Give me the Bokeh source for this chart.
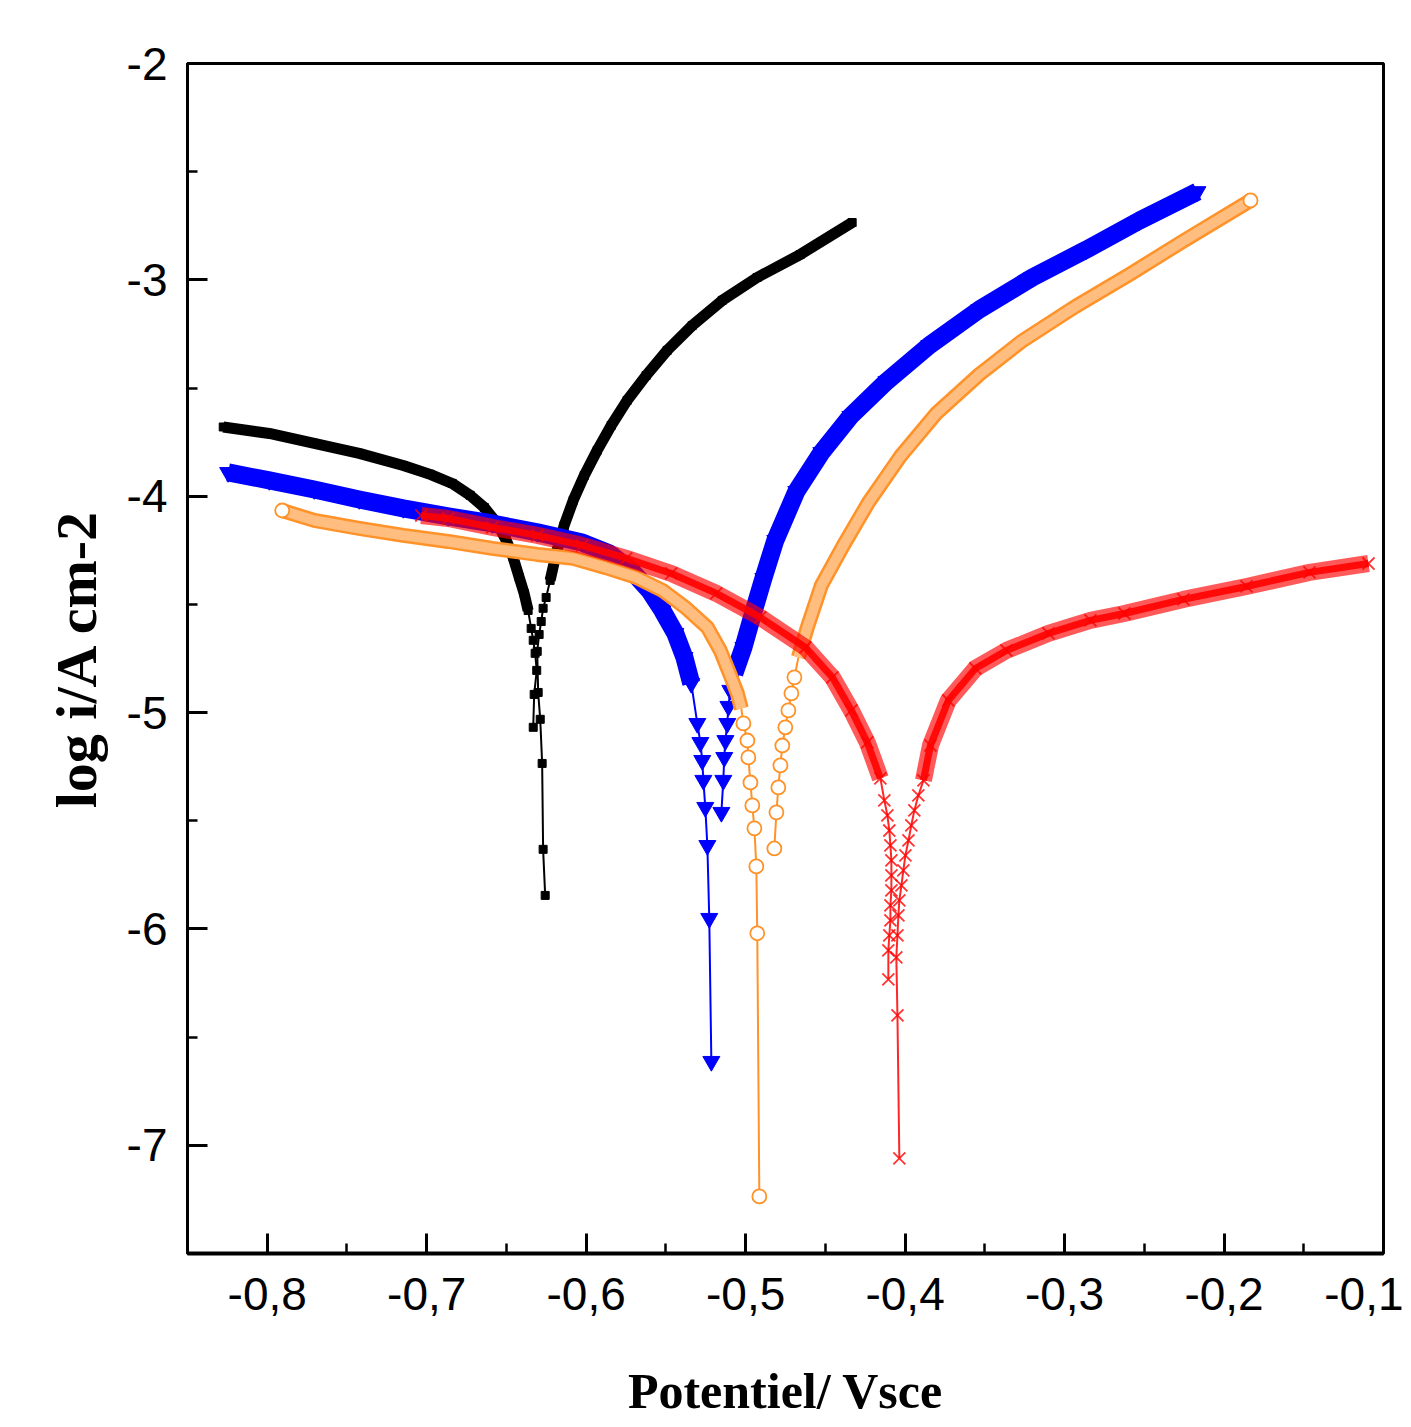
from bokeh.plotting import figure
from bokeh.models import FixedTicker, Range1d
from bokeh.embed import file_html
from bokeh.resources import INLINE

# ---------------- axis ticks ----------------
x_ticks = [-0.8, -0.7, -0.6, -0.5, -0.4, -0.3, -0.2, -0.1]
x_tick_labels = ["-0,8", "-0,7", "-0,6", "-0,5", "-0,4", "-0,3", "-0,2", "-0,1"]
x_minor = [-0.75, -0.65, -0.55, -0.45, -0.35, -0.25, -0.15]
y_ticks = [-2, -3, -4, -5, -6, -7]
y_tick_labels = ["-2", "-3", "-4", "-5", "-6", "-7"]
y_minor = [-2.5, -3.5, -4.5, -5.5, -6.5]

# ---------------- data (E in V/SCE, log i) ----------------
# black (squares)
black_cath_E = [-0.8276, -0.7987, -0.7705, -0.7423, -0.7147, -0.6978, -0.6840, -0.6727, -0.6639, -0.6558, -0.6501, -0.6458, -0.6420, -0.6389, -0.6364]
black_cath_logi = [-3.680, -3.710, -3.756, -3.802, -3.858, -3.899, -3.941, -3.996, -4.052, -4.126, -4.204, -4.283, -4.375, -4.449, -4.528]
black_cath_tail_E = [-0.6345, -0.6332, -0.6320, -0.6310, -0.6326, -0.6332]
black_cath_tail_logi = [-4.611, -4.666, -4.726, -4.805, -4.916, -5.068]
black_anod_tail_E = [-0.6257, -0.6270, -0.6276, -0.6288, -0.6301, -0.6307, -0.6295, -0.6282, -0.6270, -0.6251]
black_anod_tail_logi = [-5.845, -5.632, -5.235, -5.031, -4.907, -4.717, -4.639, -4.579, -4.518, -4.468]
black_anod_E = [-0.6226, -0.6188, -0.6138, -0.6081, -0.6012, -0.5931, -0.5843, -0.5743, -0.5624, -0.5492, -0.5335, -0.5147, -0.4928, -0.4658, -0.4332]
black_anod_logi = [-4.389, -4.264, -4.135, -4.019, -3.904, -3.788, -3.673, -3.557, -3.442, -3.326, -3.211, -3.095, -2.989, -2.883, -2.735]

# blue (inverted triangles)
blue_cath_E = [-0.8245, -0.7987, -0.7705, -0.7423, -0.7147, -0.6865, -0.6589, -0.6306, -0.6024, -0.5855, -0.5717, -0.5604, -0.5522, -0.5441, -0.5384, -0.5341]
blue_cath_logi = [-3.890, -3.927, -3.969, -4.015, -4.056, -4.093, -4.126, -4.167, -4.214, -4.264, -4.343, -4.435, -4.528, -4.634, -4.745, -4.865]
blue_cath_tail_E = [-0.5303, -0.5284, -0.5272, -0.5265, -0.5253, -0.5240, -0.5228, -0.5215]
blue_cath_tail_logi = [-5.050, -5.138, -5.221, -5.313, -5.438, -5.614, -5.951, -6.612]
blue_anod_tail_E = [-0.5152, -0.5140, -0.5134, -0.5127, -0.5115, -0.5108, -0.5096]
blue_anod_tail_logi = [-5.461, -5.313, -5.207, -5.129, -5.050, -4.971, -4.897]
blue_anod_E = [-0.5071, -0.5014, -0.4952, -0.4889, -0.4814, -0.4682, -0.4525, -0.4343, -0.4117, -0.3848, -0.3534, -0.3202, -0.2863, -0.2531, -0.2167]
blue_anod_logi = [-4.819, -4.699, -4.537, -4.380, -4.204, -3.978, -3.798, -3.631, -3.470, -3.303, -3.137, -2.989, -2.860, -2.726, -2.592]

# orange (open circles)
orange_cath_E = [-0.7906, -0.7705, -0.7423, -0.7147, -0.6865, -0.6589, -0.6306, -0.6081, -0.5880, -0.5686, -0.5522, -0.5378, -0.5240, -0.5159, -0.5096, -0.5052, -0.5027]
orange_cath_logi = [-4.066, -4.112, -4.149, -4.181, -4.209, -4.241, -4.269, -4.287, -4.329, -4.375, -4.435, -4.514, -4.606, -4.713, -4.828, -4.911, -4.981]
orange_cath_tail_E = [-0.5014, -0.4989, -0.4983, -0.4970, -0.4958, -0.4945, -0.4933, -0.4927, -0.4914]
orange_cath_tail_logi = [-5.050, -5.129, -5.207, -5.323, -5.429, -5.535, -5.711, -6.020, -7.236]
orange_anod_tail_E = [-0.4820, -0.4807, -0.4795, -0.4782, -0.4770, -0.4751, -0.4732, -0.4713, -0.4694]
orange_anod_tail_logi = [-5.628, -5.461, -5.346, -5.244, -5.152, -5.068, -4.990, -4.911, -4.837]
orange_anod_E = [-0.4669, -0.4613, -0.4525, -0.4387, -0.4230, -0.4030, -0.3804, -0.3534, -0.3271, -0.2932, -0.2593, -0.2261, -0.1834]
orange_anod_logi = [-4.745, -4.606, -4.412, -4.227, -4.029, -3.816, -3.617, -3.437, -3.285, -3.123, -2.975, -2.823, -2.633]

# red (crosses)
red_cath_E = [-0.7034, -0.6865, -0.6589, -0.6306, -0.6024, -0.5748, -0.5466, -0.5184, -0.4908, -0.4625, -0.4456, -0.4337, -0.4237, -0.4155]
red_cath_logi = [-4.089, -4.103, -4.144, -4.181, -4.227, -4.287, -4.357, -4.449, -4.560, -4.699, -4.837, -4.990, -5.138, -5.304]
red_cath_tail_E = [-0.4130, -0.4111, -0.4099, -0.4092, -0.4086, -0.4086, -0.4086, -0.4092, -0.4092, -0.4099, -0.4105, -0.4105]
red_cath_tail_logi = [-5.406, -5.475, -5.545, -5.614, -5.683, -5.752, -5.822, -5.891, -5.960, -6.030, -6.099, -6.233]
red_anod_tail_E = [-0.4036, -0.4048, -0.4055, -0.4048, -0.4042, -0.4036, -0.4023, -0.4011, -0.3998, -0.3979, -0.3961, -0.3942, -0.3917]
red_anod_tail_logi = [-7.060, -6.399, -6.131, -6.030, -5.937, -5.868, -5.799, -5.729, -5.660, -5.591, -5.521, -5.452, -5.383]
red_anod_E = [-0.3885, -0.3841, -0.3729, -0.3559, -0.3365, -0.3101, -0.2838, -0.2625, -0.2255, -0.1859, -0.1464, -0.1094]
red_anod_logi = [-5.313, -5.152, -4.944, -4.796, -4.713, -4.634, -4.574, -4.542, -4.477, -4.417, -4.352, -4.311]

# ---------------- figure ----------------
p = figure(width=1403, height=1427,
           x_range=Range1d(-0.85, -0.1), y_range=Range1d(-7.5, -2.0),
           output_backend="svg", toolbar_location=None,
           min_border_left=187, min_border_right=20,
           min_border_top=63, min_border_bottom=174)
p.grid.visible = False
p.background_fill_color = "white"
p.border_fill_color = "white"
p.outline_line_color = "black"
p.outline_line_width = 3

xax = p.xaxis[0]
yax = p.yaxis[0]
xax.ticker = FixedTicker(ticks=x_ticks, minor_ticks=x_minor)
yax.ticker = FixedTicker(ticks=y_ticks, minor_ticks=y_minor)
xax.major_label_overrides = dict(zip(x_ticks, x_tick_labels))
yax.major_label_overrides = dict(zip(y_ticks, y_tick_labels))

for ax in (xax, yax):
    ax.axis_line_color = "black"
    ax.axis_line_width = 3
    ax.major_tick_in = 20
    ax.major_tick_out = 0
    ax.minor_tick_in = 10
    ax.minor_tick_out = 0
    ax.major_tick_line_width = 3
    ax.minor_tick_line_width = 2.5
    ax.major_tick_line_color = "black"
    ax.minor_tick_line_color = "black"
    ax.major_label_text_font = "'Liberation Sans Narrow', 'Liberation Sans', Arial, sans-serif"
    ax.major_label_text_font_size = "46px"
    ax.major_label_text_color = "black"
    ax.axis_label_text_font = "'Liberation Serif', 'Times New Roman', serif"
    ax.axis_label_text_font_style = "bold"
    ax.axis_label_text_color = "black"

xax.axis_line_width = 4
xax.axis_label = "Potentiel/ Vsce"
xax.axis_label_text_font_size = "50px"
xax.major_label_standoff = 24
xax.axis_label_standoff = 50
yax.axis_label = "log i/A cm-2"
yax.axis_label_text_font_size = "58px"
yax.major_label_standoff = 20
yax.axis_label_standoff = 15


def branch_lines(cE, ci, ctE, cti, atE, ati, aE, ai, color, thin_w, alpha=1.0):
    p.line(cE[-1:] + ctE, ci[-1:] + cti, line_color=color, line_width=thin_w, line_alpha=alpha)
    p.line(atE + aE[:1], ati + ai[:1], line_color=color, line_width=thin_w, line_alpha=alpha)


# ---- black ----
branch_lines(black_cath_E, black_cath_logi, black_cath_tail_E, black_cath_tail_logi,
             black_anod_tail_E, black_anod_tail_logi, black_anod_E, black_anod_logi, "black", 2)
for E, li in ((black_cath_E, black_cath_logi), (black_anod_E, black_anod_logi)):
    p.line(E, li, line_color="black", line_width=11, line_join="round")
p.scatter(black_cath_E + black_cath_tail_E + black_anod_tail_E + black_anod_E,
          black_cath_logi + black_cath_tail_logi + black_anod_tail_logi + black_anod_logi,
          marker="square", size=8, fill_color="black", line_color="black")

# ---- blue ----
branch_lines(blue_cath_E, blue_cath_logi, blue_cath_tail_E, blue_cath_tail_logi,
             blue_anod_tail_E, blue_anod_tail_logi, blue_anod_E, blue_anod_logi, "#0000FF", 2)
for E, li in ((blue_cath_E, blue_cath_logi), (blue_anod_E, blue_anod_logi)):
    p.line(E, li, line_color="#0000FF", line_width=18, line_join="round")
p.scatter(blue_cath_E + blue_cath_tail_E + blue_anod_tail_E + blue_anod_E,
          blue_cath_logi + blue_cath_tail_logi + blue_anod_tail_logi + blue_anod_logi,
          marker="inverted_triangle", size=17, fill_color="#0000FF", line_color="#0000FF")

# ---- orange ----
ORANGE = "#FF9228"
branch_lines(orange_cath_E, orange_cath_logi, orange_cath_tail_E, orange_cath_tail_logi,
             orange_anod_tail_E, orange_anod_tail_logi, orange_anod_E, orange_anod_logi, ORANGE, 2)
for E, li in ((orange_cath_E, orange_cath_logi), (orange_anod_E, orange_anod_logi)):
    p.line(E, li, line_color=ORANGE, line_width=15, line_join="round")
    p.line(E, li, line_color="#FFBE80", line_width=10, line_join="round")
p.scatter(orange_cath_tail_E + orange_anod_tail_E + [orange_cath_E[0], orange_anod_E[-1]],
          orange_cath_tail_logi + orange_anod_tail_logi + [orange_cath_logi[0], orange_anod_logi[-1]],
          marker="circle", size=14, fill_color="white", line_color=ORANGE, line_width=1.8)

# ---- red ----
RED = "#FF0000"
branch_lines(red_cath_E, red_cath_logi, red_cath_tail_E, red_cath_tail_logi,
             red_anod_tail_E, red_anod_tail_logi, red_anod_E, red_anod_logi, RED, 2, 0.85)
for E, li in ((red_cath_E, red_cath_logi), (red_anod_E, red_anod_logi)):
    p.line(E, li, line_color=RED, line_width=17, line_alpha=0.65, line_join="round")
    p.line(E, li, line_color=RED, line_width=7, line_alpha=0.9, line_join="round")
p.scatter(red_cath_E + red_cath_tail_E + red_anod_tail_E + red_anod_E,
          red_cath_logi + red_cath_tail_logi + red_anod_tail_logi + red_anod_logi,
          marker="x", size=17, line_color=RED, line_width=1.8, line_alpha=0.8)

open("out.html", "w").write(file_html(p, INLINE))
